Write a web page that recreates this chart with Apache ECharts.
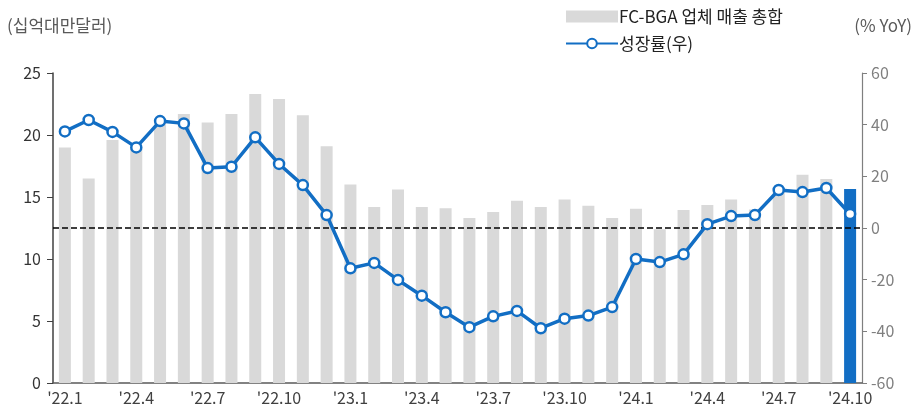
<!DOCTYPE html>
<html>
<head>
<meta charset="utf-8">
<script src="https://cdn.jsdelivr.net/npm/echarts@6/dist/echarts.min.js"></script>
<style>
  html, body { margin: 0; padding: 0; background: #fff; }
  #chart { width: 921px; height: 416px; }
</style>
</head>
<body>
<div id="chart"></div>
<script>
// 월별 카테고리
var months = ["'22.1", "'22.2", "'22.3", "'22.4", "'22.5", "'22.6", "'22.7", "'22.8", "'22.9", "'22.10", "'22.11", "'22.12",
              "'23.1", "'23.2", "'23.3", "'23.4", "'23.5", "'23.6", "'23.7", "'23.8", "'23.9", "'23.10", "'23.11", "'23.12",
              "'24.1", "'24.2", "'24.3", "'24.4", "'24.5", "'24.6", "'24.7", "'24.8", "'24.9", "'24.10"];
// FC-BGA 업체 매출 총합 (십억대만달러)
var sales = [19.0, 16.5, 19.6, 18.9, 21.2, 21.7, 21.0, 21.7, 23.3, 22.9, 21.6, 19.1,
             16.0, 14.2, 15.6, 14.2, 14.1, 13.3, 13.8, 14.7, 14.2, 14.8, 14.3, 13.3,
             14.05, 12.4, 13.95, 14.35, 14.8, 14.0, 15.7, 16.8, 16.45, 15.65];
// 성장률 (% YoY)
var growth = [37.4, 41.8, 37.2, 31.2, 41.4, 40.5, 23.2, 23.7, 35.1, 24.8, 16.6, 5.0,
              -15.6, -13.5, -20.1, -26.2, -32.6, -38.4, -34.2, -32.1, -38.8, -35.1, -33.9, -30.6,
              -12.0, -13.2, -10.2, 1.5, 4.6, 5.0, 14.7, 13.9, 15.5, 5.4];

var blue = "#126ec4";
var fontName = "'Noto Sans CJK KR', 'Noto Sans', sans-serif";

var barData = sales.map(function (v, i) {
  if (i === sales.length - 1) {
    return { value: v, itemStyle: { color: blue } };
  }
  return v;
});

var myChart = echarts.init(document.getElementById("chart"));
myChart.setOption({
  animation: false,
  backgroundColor: "#fff",
  textStyle: { fontFamily: fontName },
  grid: { left: 53, right: 59, top: 73, bottom: 33 },
  graphic: [
    { type: "text", left: 7, top: 17, style: { text: "(십억대만달러)", fill: "#595959", font: "17px " + fontName } },
    { type: "text", right: 9, top: 17, style: { text: "(% YoY)", fill: "#595959", font: "17px " + fontName } }
  ],
  legend: {
    orient: "vertical",
    left: 560,
    top: 3,
    itemWidth: 52,
    itemHeight: 12,
    itemGap: 10,
    textStyle: { fontSize: 17, color: "#222", fontFamily: fontName, padding: [0, 0, 0, -4] },
    data: [
      { name: "FC-BGA 업체 매출 총합", icon: "rect", itemStyle: { color: "#d9d9d9" } },
      { name: "성장률(우)" }
    ]
  },
  xAxis: {
    type: "category",
    data: months,
    boundaryGap: true,
    axisLine: { lineStyle: { color: "#595959", width: 1.5 } },
    axisTick: { interval: 2, length: 5, lineStyle: { color: "#595959" } },
    axisLabel: { interval: 2, color: "#404040", fontSize: 16, margin: 7 }
  },
  yAxis: [
    {
      type: "value",
      min: 0,
      max: 25,
      interval: 5,
      splitLine: { show: false },
      axisLine: { show: true, lineStyle: { color: "#404040", width: 1.5 } },
      axisTick: { show: true, length: 6, lineStyle: { color: "#404040" } },
      axisLabel: { color: "#333", fontSize: 16, margin: 12 }
    },
    {
      type: "value",
      min: -60,
      max: 60,
      interval: 20,
      position: "right",
      splitLine: { show: false },
      axisLine: { show: true, lineStyle: { color: "#7f7f7f", width: 1.2 } },
      axisTick: { show: true, length: 5, lineStyle: { color: "#7f7f7f" } },
      axisLabel: { color: "#7f7f7f", fontSize: 16, margin: 9 }
    }
  ],
  series: [
    {
      name: "FC-BGA 업체 매출 총합",
      type: "bar",
      yAxisIndex: 0,
      barWidth: 12,
      itemStyle: { color: "#d9d9d9" },
      data: barData
    },
    {
      name: "성장률(우)",
      type: "line",
      yAxisIndex: 1,
      symbol: "circle",
      symbolSize: 10,
      z: 5,
      lineStyle: { color: blue, width: 3.5 },
      itemStyle: { color: "#fff", borderColor: blue, borderWidth: 2.5 },
      data: growth,
      markLine: {
        silent: true,
        symbol: "none",
        label: { show: false },
        lineStyle: { color: "#000", type: [6, 3], width: 1.5 },
        data: [{ yAxis: 0 }]
      }
    }
  ]
});
</script>
</body>
</html>
